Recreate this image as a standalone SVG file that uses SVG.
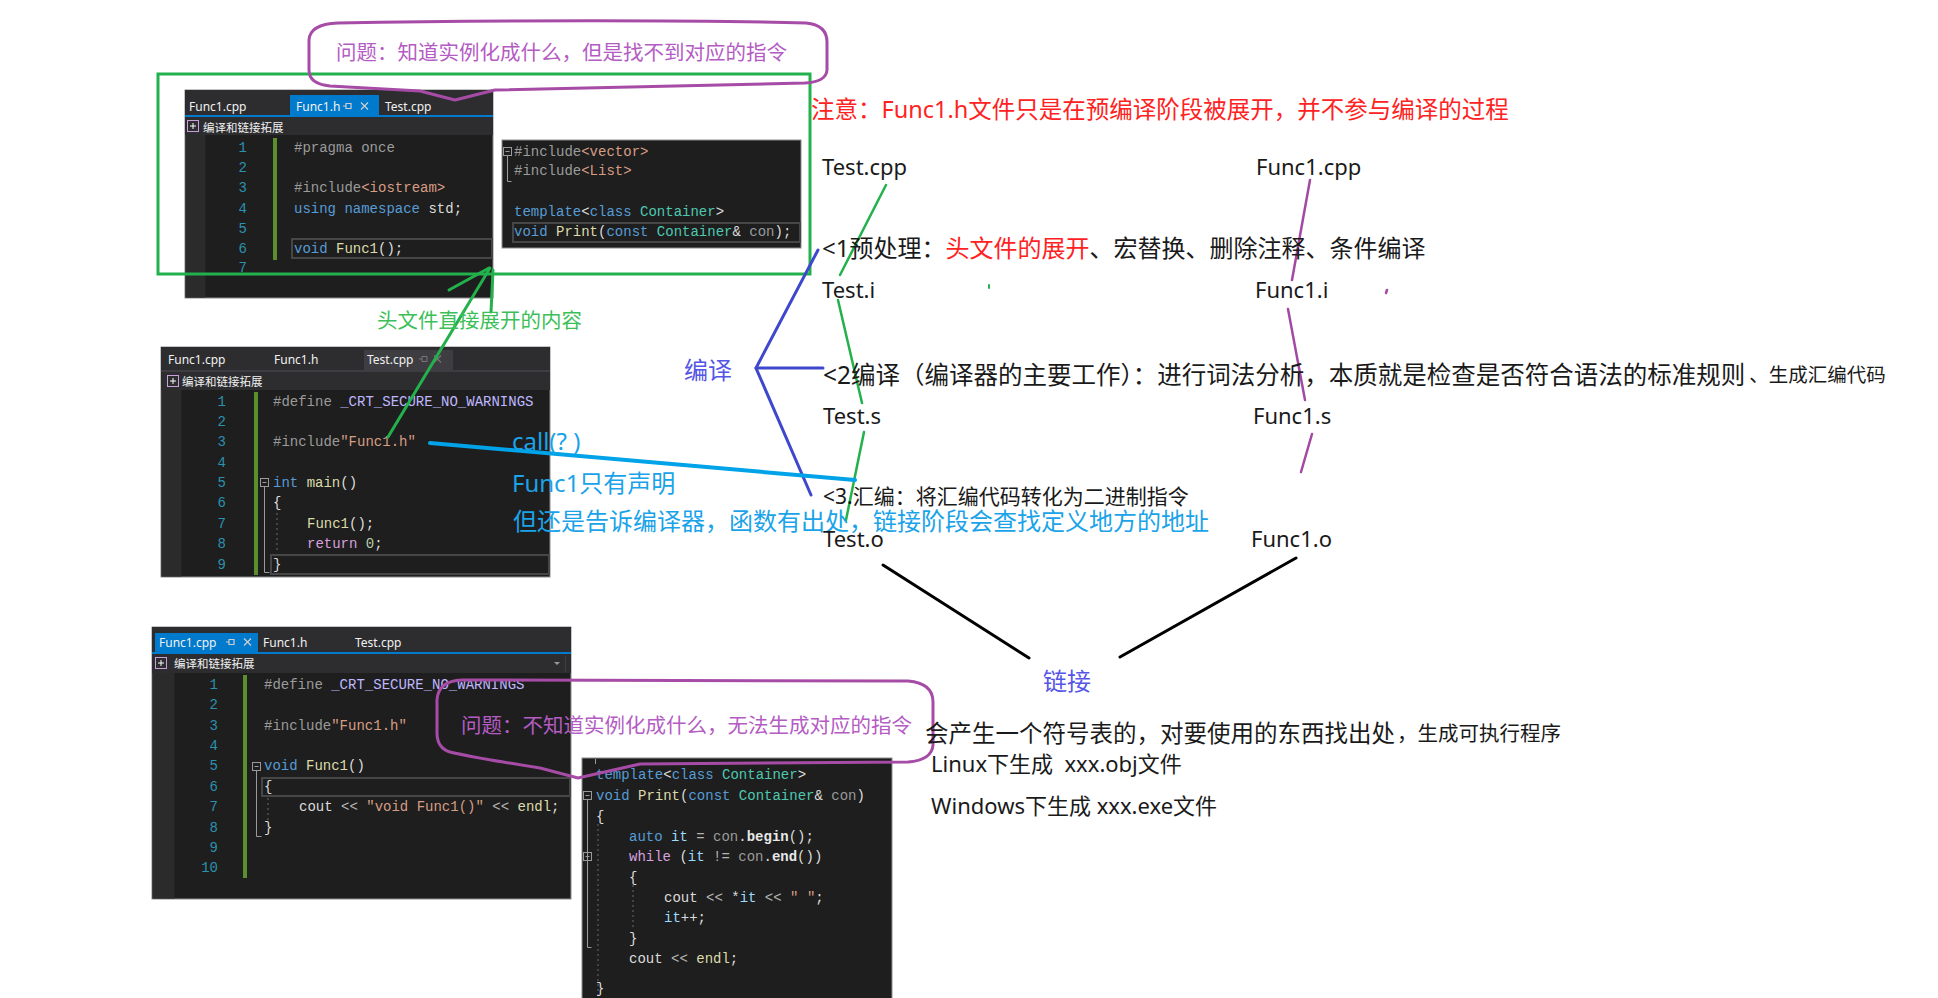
<svg xmlns="http://www.w3.org/2000/svg" width="1938" height="998" viewBox="0 0 1938 998">
<style>
.t{font-family:"Noto Sans","Noto Sans CJK SC",sans-serif;dominant-baseline:central;fill:#1a1a1a}
.red{fill:#ff2222}
.cy{fill:#1aa3e8}
.bp{fill:#5656e6}
.pu{fill:#b45cc4}
.gr{fill:#3cbf58}
.code{font-family:"Liberation Mono",monospace;font-size:14px;fill:#dcdcdc;dominant-baseline:central}
.ln{font-family:"Liberation Mono",monospace;font-size:14px;fill:#2b91af;dominant-baseline:central;text-anchor:end}
.tab{font-family:"Noto Sans",sans-serif;font-size:12px;fill:#f1f1f1;dominant-baseline:central}
.tb{font-family:"Noto Sans CJK SC",sans-serif;font-size:11.5px;fill:#f1f1f1;dominant-baseline:central}
.pp{fill:#9b9b9b}.kw{fill:#569cd6}.fn{fill:#dcdcaa}.str{fill:#d69d85}.ty{fill:#4ec9b0}.mac{fill:#beb7ff}.ctl{fill:#d8a0df}.num{fill:#b5cea8}.var{fill:#9cdcfe}.prm{fill:#9a9a9a}.op{fill:#b4b4b4}
.bg{fill:#1e1e1e;stroke:#8c8c8c;stroke-width:1}
.bar{fill:#2d2d30}
.gut{fill:#2b2b2b}
.chg{fill:#5b8f2e}
.box{fill:none;stroke:#464646;stroke-width:2}
.fold{fill:none;stroke:#9a9a9a;stroke-width:1}
.guide{stroke:#6a6a6a;stroke-width:1;stroke-dasharray:2 3}
.icon{fill:none;stroke:#cfcfcf;stroke-width:1.2}
.ico{fill:#2d2d30;stroke:#c9a0dc;stroke-width:1}
.bubble{fill:none;stroke:#a64ca6;stroke-width:3;stroke-linejoin:round}
.g{stroke:#22b14c;fill:none;stroke-linecap:round}
.p{stroke:#a349a4;fill:none;stroke-linecap:round;stroke-width:2.5}
.b{stroke:#3f48cc;fill:none;stroke-linecap:round;stroke-width:3}
.k{stroke:#000;fill:none;stroke-linecap:round;stroke-width:3}
.c{stroke:#00a2e8;fill:none;stroke-linecap:round;stroke-width:4}
</style>

<!-- Editor 1: Func1.h -->
<g id="editor-func1h" transform="translate(185,90)">
  <rect class="bg" width="308" height="208"/>
  <rect class="bar" width="308" height="25"/>
  <rect x="105" y="5" width="89" height="20" fill="#007acc"/>
  <text class="tab" x="4" y="16">Func1.cpp</text>
  <text class="tab" x="111" y="16" fill="#ffffff">Func1.h</text>
  <path class="icon" d="M158,16 h3 M161,13.5 h5 v5 h-5 z"/>
  <path class="icon" d="M176,12.5 l7,7 M183,12.5 l-7,7"/>
  <text class="tab" x="200" y="16">Test.cpp</text>
  <rect y="25" width="308" height="2" fill="#007acc"/>
  <rect class="bar" y="27" width="308" height="18"/>
  <rect class="ico" x="2.5" y="30.5" width="11" height="11"/>
  <path d="M5,36 h6 M8,33 v6" stroke="#fff" stroke-width="1"/>
  <text class="tb" x="18" y="37">编译和链接拓展</text>
  <rect class="gut" x="0.5" y="45" width="20" height="162.5"/>
  <rect class="chg" x="88" y="48" width="4" height="122"/>
  <text class="ln" x="62" y="58">1</text>
  <text class="ln" x="62" y="78">2</text>
  <text class="ln" x="62" y="98">3</text>
  <text class="ln" x="62" y="119">4</text>
  <text class="ln" x="62" y="139">5</text>
  <text class="ln" x="62" y="159">6</text>
  <text class="ln" x="62" y="178">7</text>
  <rect class="box" x="107" y="149" width="200" height="19"/>
  <text class="code" x="109" y="58" xml:space="preserve"><tspan class="pp">#pragma once</tspan></text>
  <text class="code" x="109" y="98" xml:space="preserve"><tspan class="pp">#include</tspan><tspan class="str">&lt;iostream&gt;</tspan></text>
  <text class="code" x="109" y="119" xml:space="preserve"><tspan class="kw">using namespace</tspan> std;</text>
  <text class="code" x="109" y="159" xml:space="preserve"><tspan class="kw">void</tspan> <tspan class="fn">Func1</tspan>();</text>
</g>

<!-- Editor 1b: template snippet -->
<g id="editor-template-decl" transform="translate(502,140)">
  <rect class="bg" width="299" height="108"/>
  <rect class="fold" x="1.5" y="7.5" width="8" height="8"/>
  <path d="M3.5,11.5 h4" stroke="#9a9a9a"/>
  <path class="fold" d="M5.5,15.5 v26 h4"/>
  <rect class="box" x="11" y="83" width="287" height="19"/>
  <text class="code" x="12" y="12" xml:space="preserve"><tspan class="pp">#include</tspan><tspan class="str">&lt;vector&gt;</tspan></text>
  <text class="code" x="12" y="31" xml:space="preserve"><tspan class="pp">#include</tspan><tspan class="str">&lt;List&gt;</tspan></text>
  <text class="code" x="12" y="72" xml:space="preserve"><tspan class="kw">template</tspan>&lt;<tspan class="kw">class</tspan> <tspan class="ty">Container</tspan>&gt;</text>
  <text class="code" x="12" y="92" xml:space="preserve"><tspan class="kw">void</tspan> <tspan class="fn">Print</tspan>(<tspan class="kw">const</tspan> <tspan class="ty">Container</tspan>&amp; <tspan class="prm">con</tspan>);</text>
</g>

<!-- Editor 2: Test.cpp -->
<g id="editor-testcpp" transform="translate(161,347)">
  <rect class="bg" width="389" height="230"/>
  <rect class="bar" width="389" height="23"/>
  <rect x="203" y="3" width="89" height="20" fill="#3e3e42"/>
  <text class="tab" x="7" y="12">Func1.cpp</text>
  <text class="tab" x="113" y="12">Func1.h</text>
  <text class="tab" x="206" y="12" fill="#d0d0d0">Test.cpp</text>
  <path d="M258,12 h3 M261,9.5 h5 v5 h-5 z" fill="none" stroke="#777"/>
  <path d="M273,8.5 l7,7 M280,8.5 l-7,7" fill="none" stroke="#777" stroke-width="1.2"/>
  <rect y="23" width="389" height="2" fill="#3e3e42"/>
  <rect class="bar" y="25" width="389" height="18"/>
  <rect class="ico" x="6.5" y="28.5" width="11" height="11"/>
  <path d="M9,34 h6 M12,31 v6" stroke="#fff" stroke-width="1"/>
  <text class="tb" x="21" y="34">编译和链接拓展</text>
  <rect class="gut" x="0.5" y="43" width="20" height="186.5"/>
  <rect class="chg" x="93" y="45" width="4" height="183"/>
  <text class="ln" x="65" y="55">1</text>
  <text class="ln" x="65" y="75">2</text>
  <text class="ln" x="65" y="95">3</text>
  <text class="ln" x="65" y="116">4</text>
  <text class="ln" x="65" y="136">5</text>
  <text class="ln" x="65" y="156">6</text>
  <text class="ln" x="65" y="177">7</text>
  <text class="ln" x="65" y="197">8</text>
  <text class="ln" x="65" y="218">9</text>
  <rect class="fold" x="99.5" y="131.5" width="8" height="8"/>
  <path d="M101.5,135.5 h4" stroke="#9a9a9a"/>
  <path class="fold" d="M103.5,139.5 v86 h5"/>
  <line class="guide" x1="116" y1="166" x2="116" y2="206"/>
  <rect class="box" x="110" y="208" width="278" height="19"/>
  <text class="code" x="112" y="55" xml:space="preserve"><tspan class="pp">#define</tspan> <tspan class="mac">_CRT_SECURE_NO_WARNINGS</tspan></text>
  <text class="code" x="112" y="95" xml:space="preserve"><tspan class="pp">#include</tspan><tspan class="str">"Func1.h"</tspan></text>
  <text class="code" x="112" y="136" xml:space="preserve"><tspan class="kw">int</tspan> <tspan class="fn">main</tspan>()</text>
  <text class="code" x="112" y="156">{</text>
  <text class="code" x="146" y="177" xml:space="preserve"><tspan class="fn">Func1</tspan>();</text>
  <text class="code" x="146" y="197" xml:space="preserve"><tspan class="ctl">return</tspan> <tspan class="num">0</tspan>;</text>
  <text class="code" x="112" y="218">}</text>
</g>

<!-- Editor 3: Func1.cpp -->
<g id="editor-func1cpp" transform="translate(152,627)">
  <rect class="bg" width="419" height="272"/>
  <rect class="bar" width="419" height="25"/>
  <rect x="3" y="6" width="103" height="19" fill="#007acc"/>
  <text class="tab" x="7" y="15" fill="#ffffff">Func1.cpp</text>
  <path class="icon" d="M74,15 h3 M77,12.5 h5 v5 h-5 z"/>
  <path class="icon" d="M92,11.5 l7,7 M99,11.5 l-7,7"/>
  <text class="tab" x="111" y="15">Func1.h</text>
  <text class="tab" x="203" y="15">Test.cpp</text>
  <rect y="25" width="419" height="2" fill="#007acc"/>
  <rect class="bar" y="27" width="419" height="19"/>
  <rect class="ico" x="3.5" y="30.5" width="11" height="11"/>
  <path d="M6,36 h6 M9,33 v6" stroke="#fff" stroke-width="1"/>
  <text class="tb" x="22" y="36">编译和链接拓展</text>
  <path d="M402,35 h6 l-3,3 z" fill="#999"/>
  <line x1="413.5" y1="29" x2="413.5" y2="45" stroke="#3f3f46"/>
  <rect class="gut" x="0.5" y="46" width="22" height="225.5"/>
  <rect class="chg" x="91" y="48" width="4" height="203"/>
  <text class="ln" x="66" y="58">1</text>
  <text class="ln" x="66" y="78">2</text>
  <text class="ln" x="66" y="99">3</text>
  <text class="ln" x="66" y="119">4</text>
  <text class="ln" x="66" y="139">5</text>
  <text class="ln" x="66" y="160">6</text>
  <text class="ln" x="66" y="180">7</text>
  <text class="ln" x="66" y="201">8</text>
  <text class="ln" x="66" y="221">9</text>
  <text class="ln" x="66" y="241">10</text>
  <rect class="fold" x="100.5" y="135.5" width="8" height="8"/>
  <path d="M102.5,139.5 h4" stroke="#9a9a9a"/>
  <path class="fold" d="M104.5,143.5 v66 h5"/>
  <rect class="box" x="110" y="151" width="308" height="18"/>
  <line class="guide" x1="116" y1="171" x2="116" y2="196"/>
  <text class="code" x="112" y="58" xml:space="preserve"><tspan class="pp">#define</tspan> <tspan class="mac">_CRT_SECURE_NO_WARNINGS</tspan></text>
  <text class="code" x="112" y="99" xml:space="preserve"><tspan class="pp">#include</tspan><tspan class="str">"Func1.h"</tspan></text>
  <text class="code" x="112" y="139" xml:space="preserve"><tspan class="kw">void</tspan> <tspan class="fn">Func1</tspan>()</text>
  <text class="code" x="112" y="160">{</text>
  <text class="code" x="147" y="180" xml:space="preserve">cout <tspan class="op">&lt;&lt;</tspan> <tspan class="str">"void Func1()"</tspan> <tspan class="op">&lt;&lt;</tspan> <tspan class="fn">endl</tspan>;</text>
  <text class="code" x="112" y="201">}</text>
</g>

<!-- Editor 4: Print template definition -->
<g id="editor-template-def" transform="translate(582,758)">
  <rect class="bg" width="310" height="245"/>
  <line x1="13.5" y1="1" x2="13.5" y2="6" stroke="#9a9a9a"/>
  <rect class="fold" x="1.5" y="33.5" width="8" height="8"/>
  <path d="M3.5,37.5 h4" stroke="#9a9a9a"/>
  <path class="fold" d="M5.5,41.5 v148 h4"/>
  <rect class="fold" x="1.5" y="94.5" width="8" height="8"/>
  <path d="M3.5,98.5 h4" stroke="#9a9a9a"/>
  <line class="guide" x1="16" y1="66" x2="16" y2="240"/>
  <line class="guide" x1="51" y1="127" x2="51" y2="170"/>
  <text class="code" x="14" y="17" xml:space="preserve"><tspan class="kw">template</tspan>&lt;<tspan class="kw">class</tspan> <tspan class="ty">Container</tspan>&gt;</text>
  <text class="code" x="14" y="38" xml:space="preserve"><tspan class="kw">void</tspan> <tspan class="fn">Print</tspan>(<tspan class="kw">const</tspan> <tspan class="ty">Container</tspan>&amp; <tspan class="prm">con</tspan>)</text>
  <text class="code" x="14" y="59">{</text>
  <text class="code" x="47" y="79" xml:space="preserve"><tspan class="kw">auto</tspan> <tspan class="var">it</tspan> <tspan class="op">=</tspan> <tspan class="prm">con</tspan>.<tspan fill="#e8e8e8" font-weight="bold">begin</tspan>();</text>
  <text class="code" x="47" y="99" xml:space="preserve"><tspan class="ctl">while</tspan> (<tspan class="var">it</tspan> <tspan class="op">!=</tspan> <tspan class="prm">con</tspan>.<tspan fill="#e8e8e8" font-weight="bold">end</tspan>())</text>
  <text class="code" x="47" y="120">{</text>
  <text class="code" x="82" y="140" xml:space="preserve">cout <tspan class="op">&lt;&lt;</tspan> *<tspan class="var">it</tspan> <tspan class="op">&lt;&lt;</tspan> <tspan class="str">" "</tspan>;</text>
  <text class="code" x="82" y="160" xml:space="preserve"><tspan class="var">it</tspan>++;</text>
  <text class="code" x="47" y="181">}</text>
  <text class="code" x="47" y="201" xml:space="preserve">cout <tspan class="op">&lt;&lt;</tspan> <tspan class="fn">endl</tspan>;</text>
  <text class="code" x="14" y="231">}</text>
</g>

<!-- Connectors -->
<g id="connectors">
  <rect x="158" y="74" width="652" height="200" fill="none" stroke="#22b14c" stroke-width="3"/>
  <path class="g" stroke-width="3" d="M388,437 L490,268 M449,290 L489,268 M493,270 L491,312"/>
  <path class="g" stroke-width="2.5" d="M886,185 L840,275 M838,300 L862,403 M864,432 L846,520"/>
  <path class="g" stroke-width="2" d="M989,285 L989,288"/>
  <path class="p" d="M1310,180 L1292,280 M1288,309 L1305,400 M1312,434 L1301,472"/>
  <path class="p" stroke-width="2" d="M1387,290 L1386,293"/>
  <path class="b" d="M818,250 L756,368 L811,495"/>
  <path class="b" stroke-width="4" d="M756,368 L823,368"/>
  <path class="c" d="M430,443 L855,480"/>
  <path class="k" d="M883,565 L1029,658 M1296,558 L1120,657"/>
</g>

<!-- Callout bubbles -->
<g id="bubble-top">
  <path class="bubble" d="M338,23 C500,20 700,20 806,23 Q827,25 827,42 L827,70 Q826,82 805,83 L495,90 L455,100 L420,91 L330,86 Q309,84 309,70 L309,40 Q310,24 338,23 Z"/>
  <text class="t pu" x="336" y="52" font-size="20.5">问题：知道实例化成什么，但是找不到对应的指令</text>
</g>
<g id="bubble-bottom">
  <path class="bubble" d="M462,680 L908,681 Q933,683 933,702 L933,745 Q932,760 908,762 L640,764 L578,778 L540,768 Q470,757 450,752 Q437,748 437,733 L437,700 Q438,681 462,680 Z"/>
  <text class="t pu" x="461" y="725" font-size="20.5">问题：不知道实例化成什么，无法生成对应的指令</text>
</g>

<!-- Labels -->
<g id="note-red"><text class="t red" x="811" y="109" font-size="23.5">注意：Func1.h文件只是在预编译阶段被展开，并不参与编译的过程</text></g>
<g id="label-expand"><text class="t gr" x="377" y="320" font-size="20.5">头文件直接展开的内容</text></g>
<g id="label-call">
  <text class="t cy" x="512" y="440" font-size="24">call(? )</text>
  <text class="t cy" x="512" y="482" font-size="24">Func1只有声明</text>
  <text class="t cy" x="513" y="520" font-size="24">但还是告诉编译器，函数有出处，链接阶段会查找定义地方的地址</text>
</g>
<g id="node-test-cpp"><text class="t" x="822" y="166" font-size="22">Test.cpp</text></g>
<g id="node-func1-cpp"><text class="t" x="1256" y="166" font-size="22">Func1.cpp</text></g>
<g id="step-1"><text class="t" x="822" y="247" font-size="24">&lt;1预处理：<tspan class="red">头文件的展开</tspan>、宏替换、删除注释、条件编译</text></g>
<g id="node-test-i"><text class="t" x="822" y="289" font-size="22">Test.i</text></g>
<g id="node-func1-i"><text class="t" x="1255" y="289" font-size="22">Func1.i</text></g>
<g id="label-compile"><text class="t bp" x="684" y="369" font-size="24">编译</text></g>
<g id="step-2"><text class="t" x="823" y="374" font-size="24.5">&lt;2编译（编译器的主要工作）：进行词法分析，本质就是检查是否符合语法的标准规则<tspan font-size="19.5" dx="4">、生成汇编代码</tspan></text></g>
<g id="node-test-s"><text class="t" x="823" y="415" font-size="22">Test.s</text></g>
<g id="node-func1-s"><text class="t" x="1253" y="415" font-size="22">Func1.s</text></g>
<g id="step-3"><text class="t" x="823" y="496" font-size="21">&lt;3.汇编：将汇编代码转化为二进制指令</text></g>
<g id="node-test-o"><text class="t" x="823" y="538" font-size="22">Test.o</text></g>
<g id="node-func1-o"><text class="t" x="1251" y="538" font-size="22">Func1.o</text></g>
<g id="label-link"><text class="t bp" x="1043" y="680" font-size="24">链接</text></g>
<g id="link-notes">
  <text class="t" x="925" y="733" font-size="23.5">会产生一个符号表的，对要使用的东西找出处<tspan font-size="20.5" dx="2">，生成可执行程序</tspan></text>
  <text class="t" x="931" y="763" font-size="22" xml:space="preserve">Linux下生成  xxx.obj文件</text>
  <text class="t" x="931" y="805" font-size="22">Windows下生成 xxx.exe文件</text>
</g>
</svg>
